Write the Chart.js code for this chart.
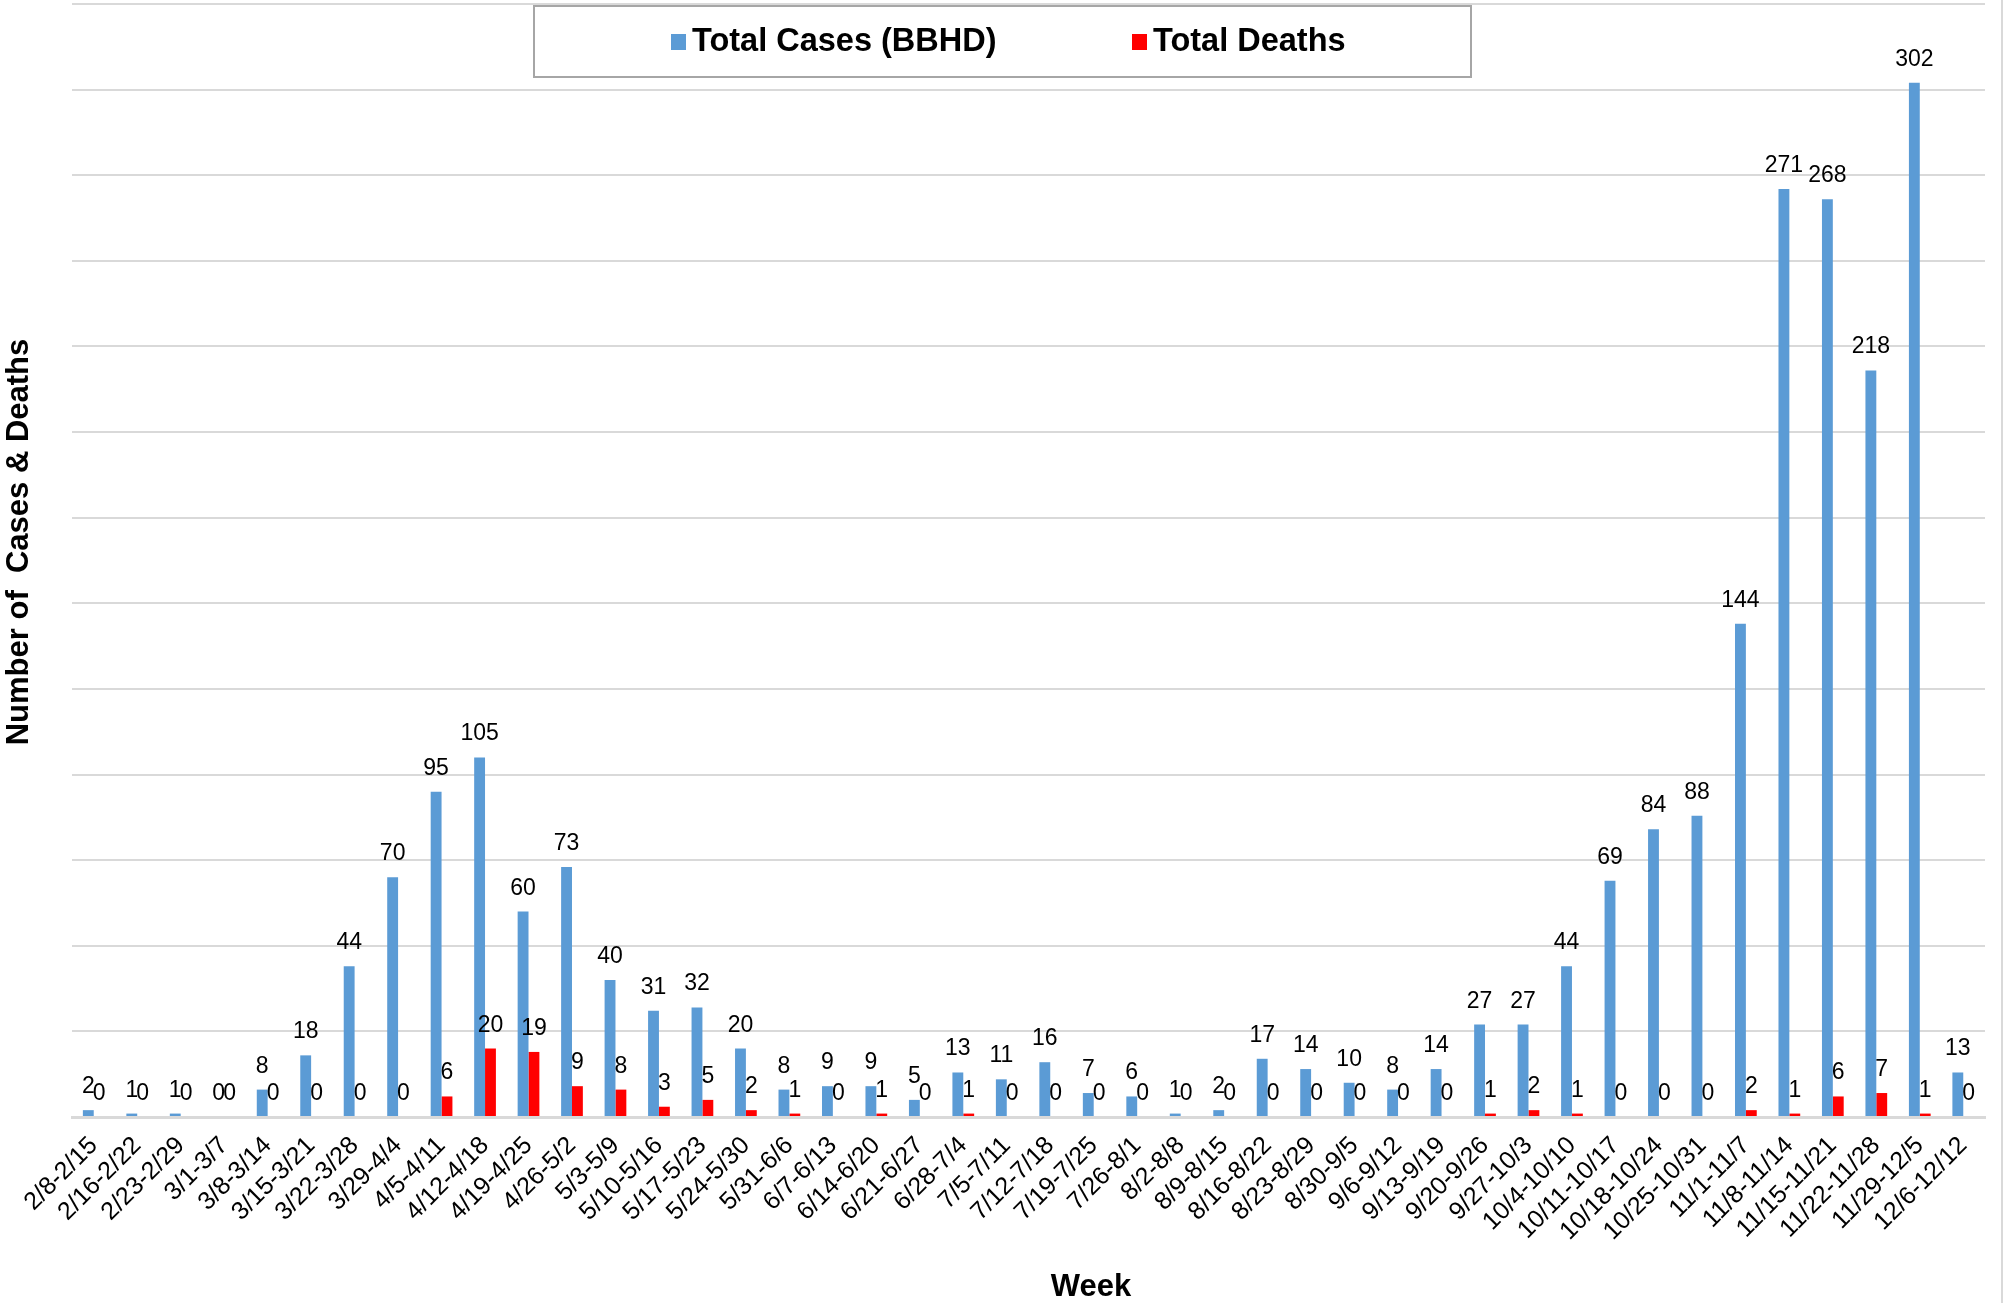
<!DOCTYPE html>
<html>
<head>
<meta charset="utf-8">
<script src="https://cdn.jsdelivr.net/npm/chart.js@4.4.1/dist/chart.umd.min.js"></script>
<style>
  html, body { margin: 0; padding: 0; background: #fff; }
  #wrap { width: 2009px; height: 1303px; position: relative; }
</style>
</head>
<body>
<div id="wrap"><canvas id="weeklyChart"></canvas></div>
<script>
// Weekly cases and deaths
const weeks = [
  '2/8-2/15', '2/16-2/22', '2/23-2/29', '3/1-3/7', '3/8-3/14', '3/15-3/21',
  '3/22-3/28', '3/29-4/4', '4/5-4/11', '4/12-4/18', '4/19-4/25', '4/26-5/2',
  '5/3-5/9', '5/10-5/16', '5/17-5/23', '5/24-5/30', '5/31-6/6', '6/7-6/13',
  '6/14-6/20', '6/21-6/27', '6/28-7/4', '7/5-7/11', '7/12-7/18', '7/19-7/25',
  '7/26-8/1', '8/2-8/8', '8/9-8/15', '8/16-8/22', '8/23-8/29', '8/30-9/5',
  '9/6-9/12', '9/13-9/19', '9/20-9/26', '9/27-10/3', '10/4-10/10', '10/11-10/17',
  '10/18-10/24', '10/25-10/31', '11/1-11/7', '11/8-11/14', '11/15-11/21',
  '11/22-11/28', '11/29-12/5', '12/6-12/12'
];

const totalCases = [
  2, 1, 1, 0, 8, 18, 44, 70, 95, 105, 60, 73, 40, 31, 32, 20, 8, 9, 9, 5, 13, 11,
  16, 7, 6, 1, 2, 17, 14, 10, 8, 14, 27, 27, 44, 69, 84, 88, 144, 271, 268, 218, 302, 13
];

const totalDeaths = [
  0, 0, 0, 0, 0, 0, 0, 0, 6, 20, 19, 9, 8, 3, 5, 2, 1, 0, 1, 0, 1, 0,
  0, 0, 0, 0, 0, 0, 0, 0, 0, 0, 1, 2, 1, 0, 0, 0, 2, 1, 6, 7, 1, 0
];

const yMax = 325;
const yStep = 25;

const FONT = '"Liberation Sans", Arial, sans-serif';

// value labels above every bar (no datalabels plugin offline)
const barValueLabels = {
  id: 'barValueLabels',
  afterDatasetsDraw(chart) {
    const ctx = chart.ctx;
    ctx.save();
    ctx.font = '23px ' + FONT;
    ctx.fillStyle = '#000';
    ctx.textAlign = 'center';
    ctx.textBaseline = 'alphabetic';
    chart.data.datasets.forEach((ds, i) => {
      chart.getDatasetMeta(i).data.forEach((bar, j) => {
        ctx.fillText(String(ds.data[j]), bar.x, bar.y - 17);
      });
    });
    ctx.restore();
  }
};

// boxed legend over the top of the plot, axis titles, right frame edge
const boxedLegend = {
  id: 'boxedLegend',
  afterDraw(chart) {
    const ctx = chart.ctx;
    ctx.save();
    ctx.fillStyle = '#fff';
    ctx.fillRect(534, 6, 937, 71);
    ctx.strokeStyle = '#a6a6a6';
    ctx.lineWidth = 2;
    ctx.strokeRect(534, 6, 937, 71);

    const items = [
      { x: 671, textX: 692 },
      { x: 1132, textX: 1153 }
    ];
    ctx.font = 'bold 32.5px ' + FONT;
    ctx.textBaseline = 'middle';
    ctx.textAlign = 'left';
    chart.data.datasets.forEach((ds, i) => {
      ctx.fillStyle = ds.backgroundColor;
      ctx.fillRect(items[i].x, 34, 15, 16);
      ctx.fillStyle = '#000';
      ctx.fillText(ds.label, items[i].textX, 42);
    });

    // x axis title, sits a bit right of centre in the original
    ctx.font = 'bold 31px ' + FONT;
    ctx.textAlign = 'center';
    ctx.textBaseline = 'alphabetic';
    ctx.fillText('Week', 1091, 1296);

    // y axis title
    ctx.save();
    ctx.translate(19, 542);
    ctx.rotate(-Math.PI / 2);
    ctx.textBaseline = 'middle';
    ctx.fillText('Number of  Cases & Deaths', 0, 0);
    ctx.restore();

    ctx.strokeStyle = '#d9d9d9';
    ctx.lineWidth = 2;
    ctx.beginPath();
    ctx.moveTo(2002, 0);
    ctx.lineTo(2002, 1303);
    ctx.stroke();
    ctx.restore();
  }
};

const ctx = document.getElementById('weeklyChart').getContext('2d');
new Chart(ctx, {
  type: 'bar',
  data: {
    labels: weeks,
    datasets: [
      {
        label: 'Total Cases (BBHD)',
        data: totalCases,
        backgroundColor: '#5b9bd5'
      },
      {
        label: 'Total Deaths',
        data: totalDeaths,
        backgroundColor: '#ff0000'
      }
    ]
  },
  options: {
    responsive: true,
    maintainAspectRatio: false,
    animation: false,
    devicePixelRatio: 1,
    categoryPercentage: 0.5,
    barPercentage: 1,
    layout: {
      padding: { top: 4, right: 24, left: 0, bottom: 0 }
    },
    scales: {
      x: {
        grid: { display: false },
        border: { display: true, color: '#d9d9d9', width: 3 },
        ticks: {
          autoSkip: false,
          minRotation: 45,
          maxRotation: 45,
          padding: 6,
          color: '#000',
          font: { family: FONT, size: 25 }
        },
        afterFit(scale) { scale.height = 186; }
      },
      y: {
        min: 0,
        max: yMax,
        border: { display: false },
        grid: { color: '#d9d9d9', lineWidth: 2, drawTicks: false },
        ticks: { display: false, stepSize: yStep },
        afterFit(scale) { scale.width = 72; }
      }
    },
    plugins: {
      legend: { display: false },
      tooltip: { enabled: false }
    }
  },
  plugins: [barValueLabels, boxedLegend]
});
</script>
</body>
</html>
